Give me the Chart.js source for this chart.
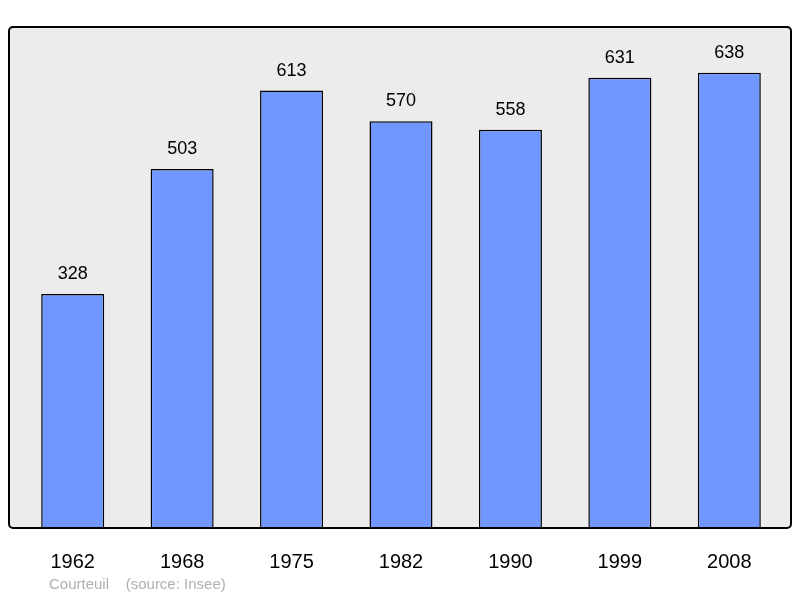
<!DOCTYPE html>
<html><head><meta charset="utf-8">
<script src="https://cdn.jsdelivr.net/npm/chart.js@4/dist/chart.umd.min.js"></script>
<style>html,body{margin:0;padding:0;background:#fff}#c{display:block}</style>
</head><body>
<div style="width:800px;height:598px"><canvas id="c" width="800" height="598"></canvas></div>
<script>
const years = ["1962","1968","1975","1982","1990","1999","2008"];
const population = [328,503,613,570,558,631,638];
const footer = "Courteuil    (source: Insee)";

const boxPlugin = {
  id:'box',
  beforeDatasetsDraw(chart){
    const ctx=chart.ctx;
    ctx.save();
    ctx.beginPath();
    ctx.roundRect(9,27,782,501,4);
    ctx.fillStyle='#ececec';ctx.fill();
    ctx.restore();
  },
  afterDatasetsDraw(chart){
    const ctx=chart.ctx;
    ctx.save();
    ctx.beginPath();
    ctx.roundRect(9,27,782,501,4);
    ctx.lineWidth=2;ctx.strokeStyle='#000';ctx.stroke();
    const meta=chart.getDatasetMeta(0);
    ctx.fillStyle='#000';ctx.font='18px "Liberation Sans", Arial, sans-serif';
    ctx.textAlign='center';ctx.textBaseline='alphabetic';
    meta.data.forEach((b,i)=>{ctx.fillText(String(population[i]),b.x,b.y-15);});
    ctx.fillStyle='#b0b0b0';ctx.font='15px "Liberation Sans", Arial, sans-serif';
    ctx.textAlign='left';ctx.fillText(footer,49,589);
    ctx.restore();
  }
};

new Chart(document.getElementById('c'),{
  type:'bar',
  data:{labels:years,datasets:[{data:population,backgroundColor:'#7096ff',borderColor:'#000',borderWidth:1.5,borderSkipped:'bottom',categoryPercentage:1,barPercentage:0.576}]},
  options:{
    responsive:false,animation:false,
    layout:{padding:{left:18,right:16,top:27,bottom:0}},
    plugins:{legend:{display:false},tooltip:{enabled:false}},
    scales:{
      x:{grid:{display:false,drawBorder:false},border:{display:false},
         ticks:{color:'#000',font:{size:20,family:'"Liberation Sans", Arial, sans-serif'},padding:14},
         afterFit(s){s.height=70;}},
      y:{display:false,min:0,max:702}
    }
  },
  plugins:[boxPlugin]
});
</script>
</body></html>
